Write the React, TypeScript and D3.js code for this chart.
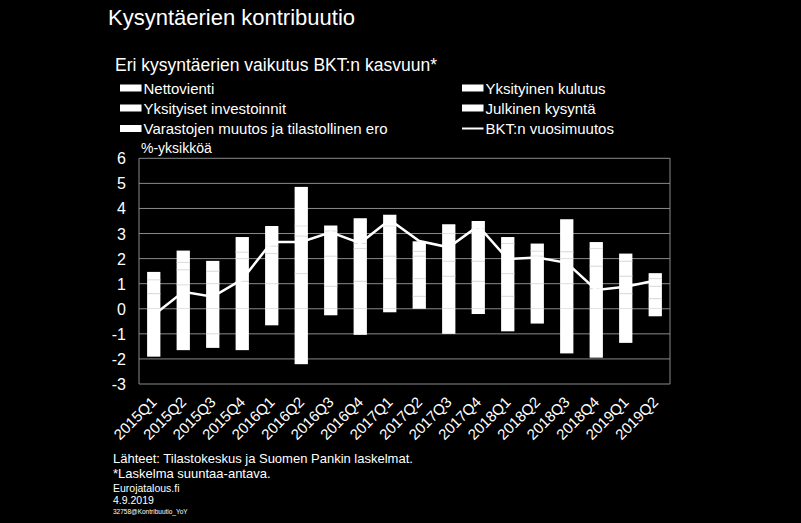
import React from "react";
import * as d3 from "d3";

const quarters = ["2015Q1","2015Q2","2015Q3","2015Q4","2016Q1","2016Q2","2016Q3","2016Q4","2017Q1","2017Q2","2017Q3","2017Q4","2018Q1","2018Q2","2018Q3","2018Q4","2019Q1","2019Q2"];
const nettovienti = [0.6,-1.65,-1.0,-1.65,-0.66,-2.21,0.9,-1.04,1.2,0.5,1.3,1.1,0.5,-0.59,-1.78,0.8,0.6,0.4];
const yksKulutus = [0.55,0.95,1.0,1.1,1.0,1.4,1.2,1.1,0.9,0.7,0.6,0.8,0.9,1.0,1.0,0.9,0.7,0.5];
const yksInvestoinnit = [0.0,0.6,0.5,0.9,1.2,1.5,1.0,1.3,1.2,0.9,1.1,1.3,1.2,1.1,1.0,0.7,0.6,0.3];
const julkinen = [0.32,0.3,0.41,0.26,0.3,0.4,0.22,0.21,0.45,0.19,0.37,0.3,0.26,0.2,0.27,0.26,0.3,0.22];
const varastot = [-1.91,0.47,-0.56,0.6,0.8,1.56,-0.26,1.0,-0.14,0.4,-1.0,-0.21,-0.9,0.3,1.3,-1.95,-1.36,-0.3];
const bktMuutos = [-0.25,0.68,0.48,1.17,2.66,2.66,3.05,2.62,3.55,2.7,2.45,3.3,1.98,2.04,1.83,0.75,0.88,1.13];
const yTicks = [6,5,4,3,2,1,0,-1,-2,-3];

const seriesKeys = ["Nettovienti","Yksityinen kulutus","Yksityiset investoinnit","Julkinen kysyntä","Varastojen muutos ja tilastollinen ero"];
const seriesArrays = [nettovienti, yksKulutus, yksInvestoinnit, julkinen, varastot];

const W = 801, H = 523;
const left = 139, right = 670, top = 158.3, bottom = 384;
const FONT = "Arial, 'Liberation Sans', sans-serif";

export default function App() {
  const rows = quarters.map((q, i) => {
    const r: any = { q };
    seriesKeys.forEach((k, j) => { r[k] = seriesArrays[j][i]; });
    return r;
  });
  const stacked = d3.stack().keys(seriesKeys).offset(d3.stackOffsetDiverging)(rows);
  const x = d3.scaleBand().domain(quarters).range([left, right]).paddingInner(0.55).paddingOuter(0.275);
  const y = d3.scaleLinear().domain([-3, 6]).range([bottom, top]);
  const line = d3.line<number>().x((_, i) => (x(quarters[i]) as number) + x.bandwidth() / 2).y(v => y(v));

  const legendLeft = [seriesKeys[0], seriesKeys[2], seriesKeys[4]];
  const legendRight = [seriesKeys[1], seriesKeys[3]];
  const rowY = [88, 108, 128.5];

  return (
    <svg width={W} height={H} style={{ position: "absolute", left: 0, top: 0, background: "#000" }} fontFamily={FONT}>
      <rect x={0} y={0} width={W} height={H} fill="#000" />
      <text x={108} y={25} fill="#fff" fontSize={22}>Kysyntäerien kontribuutio</text>
      <text x={115} y={71} fill="#fff" fontSize={17.5}>Eri kysyntäerien vaikutus BKT:n kasvuun*</text>
      {legendLeft.map((k, i) => (
        <g key={k}>
          <rect x={120} y={rowY[i] - 3.5} width={21.5} height={7} fill="#fff" />
          <text x={143.5} y={rowY[i] + 5.5} fill="#fff" fontSize={15}>{k}</text>
        </g>
      ))}
      {legendRight.map((k, i) => (
        <g key={k}>
          <rect x={462} y={rowY[i] - 3.5} width={21.5} height={7} fill="#fff" />
          <text x={485.5} y={rowY[i] + 5.5} fill="#fff" fontSize={15}>{k}</text>
        </g>
      ))}
      <line x1={462} x2={483.5} y1={rowY[2]} y2={rowY[2]} stroke="#fff" strokeWidth={2} />
      <text x={485.5} y={rowY[2] + 5.5} fill="#fff" fontSize={15}>BKT:n vuosimuutos</text>
      <text x={141} y={153} fill="#fff" fontSize={14}>%-yksikköä</text>

      {yTicks.map(t => (
        <g key={t}>
          <line x1={left} x2={right} y1={y(t)} y2={y(t)} stroke="#8a8a8a" strokeWidth={1} />
          <text x={126} y={y(t) + 6} fill="#fff" fontSize={16} textAnchor="end">{t}</text>
        </g>
      ))}
      <line x1={left} x2={left} y1={top} y2={bottom} stroke="#8a8a8a" />
      <line x1={right} x2={right} y1={top} y2={bottom} stroke="#8a8a8a" />

      {stacked.map((s, si) => (
        <g key={si}>
          {s.map((d, i) => {
            const y0 = y(Math.max(d[0], d[1]));
            const y1 = y(Math.min(d[0], d[1]));
            if (y1 - y0 <= 0) return null;
            return <rect key={i} x={x(quarters[i])} y={y0} width={x.bandwidth()} height={y1 - y0} fill="#fff" />;
          })}
        </g>
      ))}
      {stacked.map((s, si) => (
        <g key={"d" + si}>
          {s.map((d, i) => {
            if (d[1] === d[0]) return null;
            const edge = d[1] > d[0] ? d[1] : d[0];
            const pos = rows[i];
            const posTop = seriesKeys.reduce((a, k) => a + Math.max(0, pos[k]), 0);
            const negBot = seriesKeys.reduce((a, k) => a + Math.min(0, pos[k]), 0);
            if (Math.abs(edge - posTop) < 1e-6 || Math.abs(edge - negBot) < 1e-6 || Math.abs(edge) < 1e-6) return null;
            return <line key={i} x1={x(quarters[i])} x2={(x(quarters[i]) as number) + x.bandwidth()} y1={y(edge)} y2={y(edge)} stroke="#e2e2e2" strokeWidth={1} />;
          })}
        </g>
      ))}
      <path d={line(bktMuutos) || ""} fill="none" stroke="#fff" strokeWidth={2.5} />

      {quarters.map(q => {
        const cx = (x(q) as number) + x.bandwidth() / 2 + 4;
        const cy = 403;
        return (
          <text key={q} x={cx} y={cy} fill="#fff" fontSize={15} textAnchor="end" transform={`rotate(-45 ${cx} ${cy})`}>{q}</text>
        );
      })}

      <text x={113} y={463} fill="#fff" fontSize={13}>Lähteet: Tilastokeskus ja Suomen Pankin laskelmat.</text>
      <text x={113} y={477.5} fill="#fff" fontSize={13}>*Laskelma suuntaa-antava.</text>
      <text x={113} y={492} fill="#fff" fontSize={10.5}>Eurojatalous.fi</text>
      <text x={113} y={503.5} fill="#fff" fontSize={10.5}>4.9.2019</text>
      <text x={113} y={514} fill="#fff" fontSize={6.5}>32758@Kontribuutio_YoY</text>
    </svg>
  );
}
